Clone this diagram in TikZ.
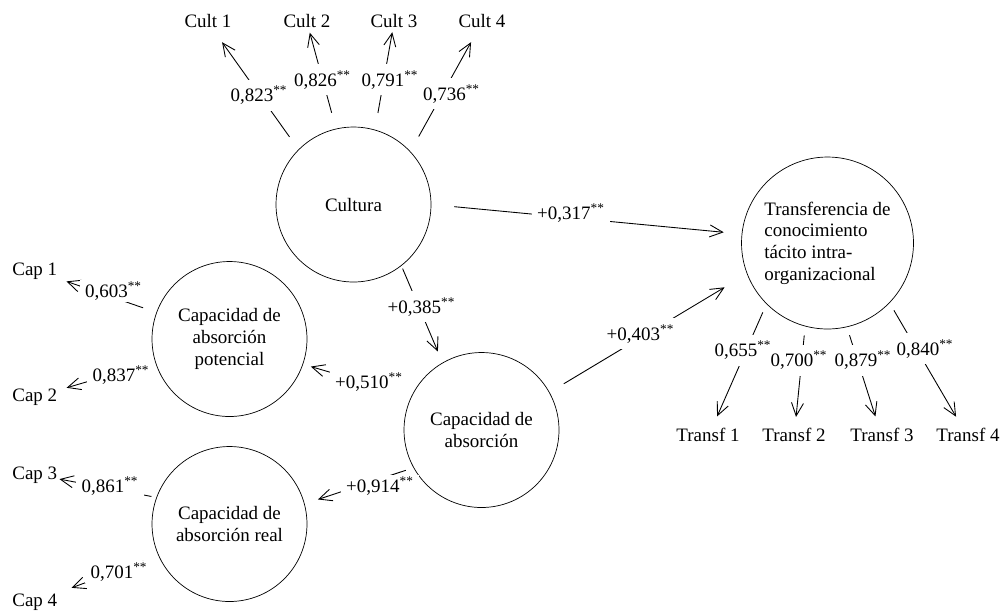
\documentclass[tikz,border=0pt]{standalone}
\usepackage{fontspec}
\setmainfont{Liberation Serif}
\usetikzlibrary{arrows.meta}
\newcommand{\dstar}{\textsuperscript{**}}
\tikzset{
  latent/.style={circle,draw,inner sep=0pt,minimum size=3.1cm,align=center},
  ind/.style={inner sep=0pt,text height=7.4pt,text depth=2.2pt},
  coef/.style={fill=white,inner xsep=3pt,inner ysep=3.5pt,anchor=base},
  arr/.style={-{Straight Barb[length=2.6mm,width=2.4mm]},line width=0.5pt},
}

\begin{document}
\begin{tikzpicture}[x=0.02cm,y=-0.02cm,every node/.style={font=\fontsize{10.8}{12.3}\selectfont}]
  \useasboundingbox (0,0) rectangle (1000,610);

  % Latent variables
  \node[latent] (cult) at (353.5,204.5) {Cultura};
  \node[latent] (pot) at (229.5,339) {Capacidad de\\absorción\\potencial};
  \node[latent] (real) at (229.5,524) {Capacidad de\\absorción real};
  \node[latent] (abs) at (481.5,430) {Capacidad de\\absorción};
  \node[latent,minimum size=3.44cm,align=left] (trans) at (827.5,243)
    {Transferencia de\\conocimiento\\tácito intra-\\organizacional};

  % Indicators
  \node[ind,anchor=base] (c1) at (208,27) {Cult 1};
  \node[ind,anchor=base] (c2) at (307,27) {Cult 2};
  \node[ind,anchor=base] (c3) at (394,27) {Cult 3};
  \node[ind,anchor=base] (c4) at (482,27) {Cult 4};
  \node[ind,anchor=base west] (cap1) at (12,275) {Cap 1};
  \node[ind,anchor=base west] (cap2) at (12,401.7) {Cap 2};
  \node[ind,anchor=base west] (cap3) at (12,479) {Cap 3};
  \node[ind,anchor=base west] (cap4) at (12,606) {Cap 4};
  \node[ind,anchor=base] (t1) at (708,441.7) {Transf 1};
  \node[ind,anchor=base] (t2) at (794,441.7) {Transf 2};
  \node[ind,anchor=base] (t3) at (882,441.7) {Transf 3};
  \node[ind,anchor=base] (t4) at (968,441.7) {Transf 4};

  % Loadings
  \draw[arr,shorten <=3.1mm,shorten >=2.7mm] (cult.135) -- (c1);
  \draw[arr,shorten <=3.3mm,shorten >=0.3mm] (cult.103) -- (c2);
  \draw[arr,shorten <=3.4mm,shorten >=0.2mm] (cult.74) -- (c3);
  \draw[arr,shorten <=3.4mm,shorten >=2.5mm] (cult.43) -- (c4);
  \draw[arr,shorten <=2.8mm,shorten >=1.9mm] (pot.160) -- (cap1);
  \draw[arr,shorten <=2.5mm,shorten >=1.9mm] (pot.197) -- (cap2);
  \draw[arr,shorten <=1mm,shorten >=0.4mm] (real.160) -- (cap3);
  \draw[arr,shorten <=3.2mm,shorten >=3mm] (real.204) -- (cap4);
  \draw[arr,shorten <=1.8mm,shorten >=2.6mm] (trans.-135) -- (t1);
  \draw[arr,shorten <=1.8mm,shorten >=2.3mm] (trans.-105) -- (t2);
  \draw[arr,shorten <=1.7mm,shorten >=2.5mm] (trans.-77) -- (t3);
  \draw[arr,shorten <=1.7mm,shorten >=2.7mm] (trans.-44) -- (t4);

  % Paths
  \draw[arr,shorten <=0.6mm,shorten >=2.4mm] (cult.-52) -- (abs.120);
  \draw[arr,shorten <=4.6mm,shorten >=3.6mm] (cult.0) -- (trans.174);
  \draw[arr,shorten <=3.3mm,shorten >=5.2mm] (abs.29) -- (trans.201);
  \draw[arr,shorten <=1.2mm,shorten >=1.6mm] (abs.154) -- (pot.-19);
  \draw[arr,shorten <=1.6mm,shorten >=2.8mm] (abs.209) -- (real.15);

  % Coefficients
  \node[coef] (k1) at (259,101.5) {0,823\dstar};
  \node[coef] (k2) at (322.5,86) {0,826\dstar};
  \node[coef] (k3) at (390,86) {0,791\dstar};
  \node[coef] (k4) at (451.5,100) {0,736\dstar};
  \node[coef,inner ysep=1pt] (k5) at (113.5,297) {0,603\dstar};
  \node[coef,inner ysep=1pt] (k6) at (121,381.7) {0,837\dstar};
  \node[coef,inner ysep=1pt] (k7) at (110,492.7) {0,861\dstar};
  \node[coef,inner ysep=1pt] (k8) at (119,578) {0,701\dstar};
  \node[coef] (k9) at (743,356.7) {0,655\dstar};
  \node[coef] (k10) at (799,366.7) {0,700\dstar};
  \node[coef] (k11) at (863,366.7) {0,879\dstar};
  \node[coef] (k12) at (925,355) {0,840\dstar};
  \node[coef] (b1) at (571,219.3) {+0,317\dstar};
  \node[coef] (b2) at (421.5,313.3) {+0,385\dstar};
  \node[coef] (b3) at (640.5,340) {+0,403\dstar};
  \node[coef] (b4) at (369,388.3) {+0,510\dstar};
  \node[coef,inner ysep=1pt] (b5) at (380,492.7) {+0,914\dstar};
\end{tikzpicture}
\end{document}
